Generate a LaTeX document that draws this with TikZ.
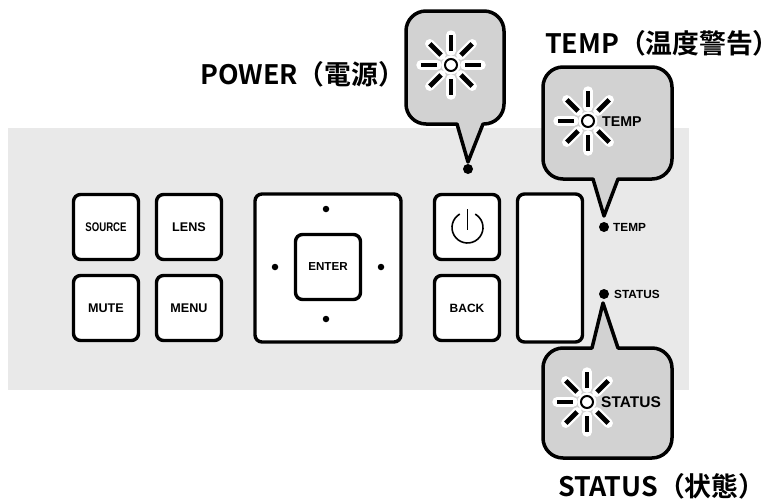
\documentclass[tikz,border=0pt]{standalone}
\usepackage{fontspec}
\newfontfamily\cjkbold{Noto Sans CJK JP Bold}
\setsansfont{Liberation Sans}
\usetikzlibrary{calc}
\definecolor{panelgray}{HTML}{E9E9E9}
\definecolor{bubblegray}{HTML}{D2D2D2}
\tikzset{
  btn/.style={draw=black,fill=white,line width=3.4pt,rounded corners=7pt,inner sep=0pt,
    minimum width=65pt,minimum height=65pt,font=\sffamily\bfseries\fontsize{12.6}{13}\selectfont},
  bubble/.style={draw=black,fill=bubblegray,line width=3.5pt,line join=round},
  ledlabel/.style={font=\sffamily\bfseries\fontsize{11.8}{12}\selectfont,inner sep=0pt,anchor=west},
  biglabel/.style={font=\sffamily\bfseries\fontsize{15.5}{16}\selectfont,inner sep=0pt,anchor=west},
  title/.style={font=\cjkbold\fontsize{26.8}{28}\selectfont,inner sep=0pt,anchor=west},
  leddot/.style={circle,fill=black,inner sep=0pt,minimum size=10pt},
  paddot/.style={circle,fill=black,inner sep=0pt,minimum size=6.5pt}
}
% #1 centre, #2 list of ray angles
\newcommand{\starrays}[2]{%
  \foreach \a in {#2}{
    \draw[white,line width=9.5pt,line cap=round] ($(#1)+(\a:14)$) -- ($(#1)+(\a:30)$);
  }
  \foreach \a in {#2}{
    \draw[black,line width=4.8pt] ($(#1)+(\a:14)$) -- ($(#1)+(\a:30)$);
  }
  \draw[white,line width=2pt,fill=white] (#1) circle (8.4pt);
  \draw[black,line width=2pt,fill=white] (#1) circle (6pt);
}
\begin{document}
\begin{tikzpicture}[x=1pt,y=-1pt]
\useasboundingbox (0,0) rectangle (769,501);
\fill[panelgray] (8,128) rectangle (689,390);

\node[btn] (source) at (106,227) {\fontsize{12.5}{13}\selectfont\addfontfeature{FakeStretch=0.77}SOURCE};
\node[btn] (lens) at (189,227) {LENS};
\node[btn] (mute) at (106,308) {MUTE};
\node[btn] (menu) at (189,308) {MENU};
\node[btn,minimum width=146pt,minimum height=148pt] (pad) at (328,268) {};
\node[btn,font=\sffamily\bfseries\fontsize{11.6}{12}\selectfont] (enter) at (328,267) {ENTER};
\node[paddot] (up) at (326,209) {};
\node[paddot] (down) at (326,319) {};
\node[paddot] (left) at (275,267) {};
\node[paddot] (right) at (381,267) {};
\node[btn] (power) at (467,227) {};
\draw[black,line width=1.6pt] (467.5,209) -- (467.5,230);
\draw[black,line width=1.6pt] (467.5,227.5) ++(240:15.5) arc[start angle=240,end angle=-60,radius=15.5];
\node[btn,font=\sffamily\bfseries\fontsize{12}{13}\selectfont] (back) at (467,308) {BACK};
\node[btn,minimum height=148pt] (blank) at (550,268) {};

\node[leddot] (ledp) at (468,169) {};
\node[leddot] (ledt) at (604,227) {};
\node[ledlabel] (ledtl) at (613,227.5) {TEMP};
\node[leddot] (leds) at (604,294) {};
\node[ledlabel] (ledsl) at (614,294) {STATUS};

% POWER bubble
\draw[bubble] (457,124) -- (468,162) -- (483,124) -- (484,124)
  arc[start angle=90,end angle=0,radius=20] -- (504,31)
  arc[start angle=0,end angle=-90,radius=20] -- (426,11)
  arc[start angle=-90,end angle=-180,radius=20] -- (406,104)
  arc[start angle=180,end angle=90,radius=20] -- cycle;
% TEMP bubble
\draw[bubble] (593,179) -- (604,216) -- (618,179) -- (652,179)
  arc[start angle=90,end angle=0,radius=20] -- (672,87)
  arc[start angle=0,end angle=-90,radius=20] -- (563,67)
  arc[start angle=-90,end angle=-180,radius=20] -- (543,159)
  arc[start angle=180,end angle=90,radius=20] -- cycle;
% STATUS bubble
\draw[bubble] (592,348) -- (603,303) -- (618,348) -- (652,348)
  arc[start angle=-90,end angle=0,radius=20] -- (672,438)
  arc[start angle=0,end angle=90,radius=20] -- (652,458) -- (563,458)
  arc[start angle=90,end angle=180,radius=20] -- (543,368)
  arc[start angle=180,end angle=270,radius=20] -- cycle;

\coordinate (sp) at (451,65);
\coordinate (st) at (588,121);
\coordinate (ss) at (587,402);
\starrays{sp}{0,45,90,135,180,225,270,315}
\starrays{st}{45,90,135,180,225,270,315}
\starrays{ss}{45,90,135,180,225,270,315}
\node[biglabel,font=\sffamily\bfseries\fontsize{14.2}{16}\selectfont] (tl) at (602,121.5) {TEMP};
\node[biglabel] (sl) at (601,402) {STATUS};

\node[title] (powert) at (200,74) {POWER（電源）};
\node[title] (tempt) at (545,43) {TEMP（温度警告{\addfontfeature{RawFeature=+palt}）}};
\node[title] (statust) at (558,486) {STATUS（状態）};
\end{tikzpicture}
\end{document}
